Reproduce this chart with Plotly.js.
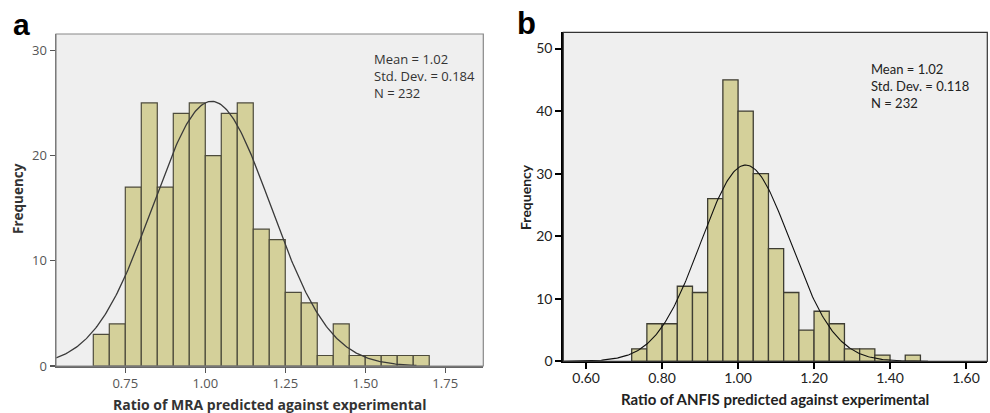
<!DOCTYPE html>
<html>
<head>
<meta charset="utf-8">
<script src="https://cdn.plot.ly/plotly-3.0.1.min.js"></script>
<style>html,body{margin:0;padding:0;background:#fff;}#chart{width:990px;height:413px;}</style>
</head>
<body>
<div id="chart"></div>
<script>
// Panel a: MRA
const binLeftA = [0.65,0.70,0.75,0.80,0.85,0.90,0.95,1.00,1.05,1.10,1.15,1.20,1.25,1.30,1.35,1.40,1.45,1.50,1.55,1.60,1.65];
const countsA  = [3,4,17,25,17,24,25,20,24,25,13,12,7,6,1,4,1,1,1,1,1];
const binWidthA = 0.05;
const meanA = 1.02, sdA = 0.184, nA = 232;
const xTicksA = [0.75,1.00,1.25,1.50,1.75];
const xTickTextA = ['0.75','1.00','1.25','1.50','1.75'];
const yTicksA = [0,10,20,30];
const statsA = ['Mean = 1.02','Std. Dev. = 0.184','N = 232'];

// Panel b: ANFIS
const binLeftB = [0.72,0.76,0.80,0.84,0.88,0.92,0.96,1.00,1.04,1.08,1.12,1.16,1.20,1.24,1.28,1.32,1.36,1.40,1.44];
const countsB  = [2,6,6,12,11,26,45,40,30,18,11,5,8,6,2,2,1,0,1];
const binWidthB = 0.04;
const meanB = 1.02, sdB = 0.118, nB = 232;
const xTicksB = [0.60,0.80,1.00,1.20,1.40,1.60];
const xTickTextB = ['0.60','0.80','1.00','1.20','1.40','1.60'];
const yTicksB = [0,10,20,30,40,50];
const statsB = ['Mean = 1.02','Std. Dev. = 0.118','N = 232'];

const rangeA = [0.5334, 1.869];
const rangeB = [0.54, 1.656];

function normalCurve(mean, sd, n, w, lo, hi){
  const xs=[], ys=[];
  const steps=300;
  for(let i=0;i<=steps;i++){
    const x = lo + (hi-lo)*i/steps;
    const z = (x-mean)/sd;
    xs.push(x);
    ys.push(n*w*Math.exp(-0.5*z*z)/(sd*Math.sqrt(2*Math.PI)));
  }
  return {xs, ys};
}
const centers = (lefts,w)=>lefts.map(v=>v+w/2);

const curveA = normalCurve(meanA, sdA, nA, binWidthA, rangeA[0], 1.66);
const curveB = normalCurve(meanB, sdB, nB, binWidthB, rangeB[0], 1.50);

const traces = [
  {type:'bar', x:centers(binLeftA,binWidthA), y:countsA, width:binWidthA,
   marker:{color:'#d4d09a', line:{color:'#4d4b3c', width:1.2}}, xaxis:'x', yaxis:'y', showlegend:false, hoverinfo:'skip'},
  {type:'scatter', mode:'lines', x:curveA.xs, y:curveA.ys, line:{color:'#3a3a3a', width:1.3},
   xaxis:'x', yaxis:'y', showlegend:false, hoverinfo:'skip'},
  {type:'bar', x:centers(binLeftB,binWidthB), y:countsB, width:binWidthB,
   marker:{color:'#d4d09a', line:{color:'#3e3d33', width:1.3}}, xaxis:'x2', yaxis:'y2', showlegend:false, hoverinfo:'skip'},
  {type:'scatter', mode:'lines', x:curveB.xs, y:curveB.ys, line:{color:'#111', width:1.1},
   xaxis:'x2', yaxis:'y2', showlegend:false, hoverinfo:'skip'}
];

const fontA = 'Open Sans, Noto Sans, sans-serif';
const fontB = 'Lato, Open Sans, sans-serif';

const layout = {
  width:990, height:413,
  margin:{l:0,r:0,t:0,b:0},
  paper_bgcolor:'#ffffff',
  plot_bgcolor:'#efefef',
  bargap:0,
  xaxis:{domain:[56/990, 483.3/990], range:rangeA, tickvals:xTicksA, ticktext:xTickTextA,
    ticks:'outside', ticklen:5, tickwidth:1.2, tickcolor:'#555', showgrid:false, zeroline:false,
    showline:true, linecolor:'#666', linewidth:1.5, anchor:'y',
    tickfont:{family:fontA, size:13, color:'#555'}},
  yaxis:{domain:[1-366/413, 1-34/413], range:[0,31.55], tickvals:yTicksA,
    ticks:'outside', ticklen:5, tickwidth:1.2, tickcolor:'#555', showgrid:false, zeroline:false,
    showline:true, linecolor:'#666', linewidth:1.5, anchor:'x',
    tickfont:{family:fontA, size:13, color:'#555'}},
  xaxis2:{domain:[563.3/990, 987.3/990], range:rangeB, tickvals:xTicksB, ticktext:xTickTextB,
    ticks:'outside', ticklen:6, tickwidth:2, tickcolor:'#000', showgrid:false, zeroline:false,
    showline:true, linecolor:'#000', linewidth:2, anchor:'y2', ticklabelstandoff:-3,
    tickfont:{family:fontB, size:14, color:'#222'}},
  yaxis2:{domain:[1-361.3/413, 1-32.3/413], range:[0,52.6], tickvals:yTicksB,
    ticks:'outside', ticklen:6, tickwidth:2, tickcolor:'#000', showgrid:false, zeroline:false,
    showline:true, linecolor:'#000', linewidth:2, anchor:'x2',
    tickfont:{family:fontB, size:14, color:'#222'}},
  shapes:[
    {type:'rect', xref:'x domain', yref:'y domain', x0:0, x1:1, y0:0, y1:1, line:{color:'#888', width:1.2}, layer:'above'},
    {type:'rect', xref:'x2 domain', yref:'y2 domain', x0:0, x1:1, y0:0, y1:1, line:{color:'#333', width:1.2}, layer:'above'}
  ],
  annotations:[
    {text:'<b>a</b>', xref:'paper', yref:'paper', x:21.5/990, y:1-24/413, xanchor:'center', yanchor:'middle', showarrow:false,
     font:{family:'Liberation Sans, Arial, sans-serif', size:30, color:'#000'}},
    {text:'<b>b</b>', xref:'paper', yref:'paper', x:526.5/990, y:1-23/413, xanchor:'center', yanchor:'middle', showarrow:false,
     font:{family:'Liberation Sans, Arial, sans-serif', size:31, color:'#000'}},
    {text:statsA.join('<br>'), xref:'paper', yref:'paper', x:372/990, y:1-76/413,
     xanchor:'left', yanchor:'middle', align:'left', showarrow:false, font:{family:fontA, size:13, color:'#333'}},
    {text:statsB.join('<br>'), xref:'paper', yref:'paper', x:869/990, y:1-86.3/413,
     xanchor:'left', yanchor:'middle', align:'left', showarrow:false, font:{family:fontB, size:13, color:'#222'}},
    {text:'<b>Ratio of MRA predicted against experimental</b>', xref:'paper', yref:'paper', x:270/990, y:1-404/413,
     xanchor:'center', yanchor:'middle', showarrow:false, font:{family:fontA, size:14, color:'#333'}},
    {text:'<b>Ratio of ANFIS predicted against experimental</b>', xref:'paper', yref:'paper', x:775/990, y:1-399/413,
     xanchor:'center', yanchor:'middle', showarrow:false, font:{family:fontB, size:15, color:'#222'}},
    {text:'<b>Frequency</b>', xref:'paper', yref:'paper', x:18/990, y:1-199/413, textangle:-90,
     xanchor:'center', yanchor:'middle', showarrow:false, font:{family:fontA, size:13.5, color:'#333'}},
    {text:'<b>Frequency</b>', xref:'paper', yref:'paper', x:525/990, y:1-197/413, textangle:-90,
     xanchor:'center', yanchor:'middle', showarrow:false, font:{family:fontB, size:14, color:'#222'}}
  ]
};

Plotly.newPlot('chart', traces, layout, {staticPlot:true, displayModeBar:false});
</script>
</body>
</html>
